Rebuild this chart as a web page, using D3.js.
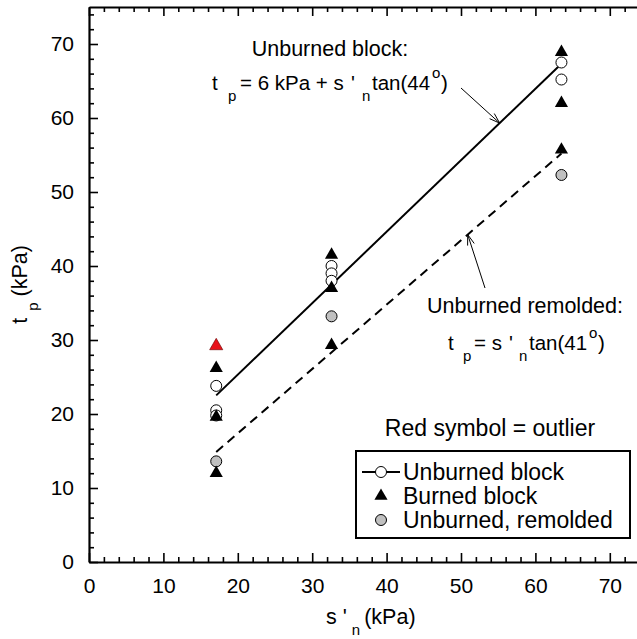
<!DOCTYPE html>
<html>
<head>
<meta charset="utf-8">
<script src="https://cdn.jsdelivr.net/npm/d3@7"></script>
<style>
  html, body { margin: 0; padding: 0; background: #fff; }
  svg { display: block; font-family: Arial, "Liberation Sans", Helvetica, sans-serif; }
</style>
</head>
<body>
<svg id="chart" width="637" height="639"></svg>
<script>
// Peak shear strength vs. effective normal stress
const unburnedS = [17.1, 17.1, 17.1, 32.6, 32.6, 32.6, 63.5, 63.5];
const unburnedT = [23.8, 20.5, 19.8, 40.0, 39.0, 38.0, 67.5, 65.2];

const burnedS = [17.1, 17.1, 17.1, 32.6, 32.6, 32.6, 63.5, 63.5, 63.5];
const burnedT = [26.2, 19.6, 12.0, 41.5, 37.0, 29.3, 68.9, 62.0, 55.7];

const outlierS = [17.1];
const outlierT = [29.2];

const remoldedS = [17.1, 32.6, 63.5];
const remoldedT = [13.6, 33.2, 52.3];

// Mohr-Coulomb fits: t = c + s tan(phi)
const fitBlock = { c: 6, phi: 44, sFrom: 17.1, sTo: 63.5 };
const fitRemolded = { c: 0, phi: 41, sFrom: 17.1, sTo: 63.5 };

const xTicks = [0, 10, 20, 30, 40, 50, 60, 70];
const yTicks = [0, 10, 20, 30, 40, 50, 60, 70];
const legLabels = ["Unburned block", "Burned block", "Unburned, remolded"];

const margin = { left: 89, top: 7 };
const plotW = 558, plotH = 555;

const svg = d3.select("#chart");
const x = d3.scaleLinear().domain([0, 75]).range([margin.left, margin.left + plotW]);
const y = d3.scaleLinear().domain([0, 75]).range([margin.top + plotH, margin.top]);

const FS = 21.5;     // annotation / title size
const EQ = 20.5;     // equation text
const TS = 21;       // tick labels
const LS = 23;       // legend
const SUB = 15;      // sub/superscripts

const minorX = d3.range(0, 76, 2).filter(v => v % 10 !== 0);
const minorY = d3.range(0, 76, 2).filter(v => v % 10 !== 0);

function styleAxis(g) {
  g.select(".domain").attr("stroke", "#000").attr("stroke-width", 2.2);
  g.selectAll(".tick line").attr("stroke", "#000").attr("stroke-width", 1.6);
  g.selectAll(".tick text").attr("fill", "#000").style("font-size", TS + "px")
    .style("font-family", "Arial, 'Liberation Sans', sans-serif");
}
function minor(g) {
  g.select(".domain").remove();
  g.selectAll("line").attr("stroke", "#000").attr("stroke-width", 1.6);
}

// bottom
styleAxis(svg.append("g").attr("transform", `translate(0,${y(0)})`)
  .call(d3.axisBottom(x).tickValues(xTicks).tickSize(-9).tickPadding(16).tickSizeOuter(0)));
svg.append("g").attr("transform", `translate(0,${y(0)})`)
  .call(d3.axisBottom(x).tickValues(minorX).tickSize(-5).tickFormat("").tickSizeOuter(0)).call(minor);

// top
styleAxis(svg.append("g").attr("transform", `translate(0,${y(75)})`)
  .call(d3.axisTop(x).tickValues(xTicks).tickSize(-9).tickFormat("").tickSizeOuter(0)));
svg.append("g").attr("transform", `translate(0,${y(75)})`)
  .call(d3.axisTop(x).tickValues(minorX).tickSize(-5).tickFormat("").tickSizeOuter(0)).call(minor);

// left
styleAxis(svg.append("g").attr("transform", `translate(${x(0)},0)`)
  .call(d3.axisLeft(y).tickValues(yTicks).tickSize(-9).tickPadding(15).tickSizeOuter(0)));
svg.append("g").attr("transform", `translate(${x(0)},0)`)
  .call(d3.axisLeft(y).tickValues(minorY).tickSize(-5).tickFormat("").tickSizeOuter(0)).call(minor);

// axis titles
const xt = svg.append("text").attr("x", 326).attr("y", 624).style("font-size", FS + "px");
xt.append("tspan").text("s '");
xt.append("tspan").attr("dx", 5).attr("dy", 11).style("font-size", SUB + "px").text("n");
xt.append("tspan").attr("dx", 4).attr("dy", -11).text("(kPa)");

const yt = svg.append("text").attr("transform", `translate(27,${y(37.5)}) rotate(-90)`)
  .attr("text-anchor", "middle").style("font-size", FS + "px");
yt.append("tspan").text("t");
yt.append("tspan").attr("dx", 7).attr("dy", 11).style("font-size", SUB + "px").text("p");
yt.append("tspan").attr("dx", 6).attr("dy", -11).text("(kPa)");

// fit lines
function fitPts(f) {
  const t = Math.tan(f.phi * Math.PI / 180);
  return [[f.sFrom, f.c + f.sFrom * t], [f.sTo, f.c + f.sTo * t]];
}
const line = d3.line().x(d => x(d[0])).y(d => y(d[1]));
svg.append("path").attr("d", line(fitPts(fitBlock)))
  .attr("fill", "none").attr("stroke", "#000").attr("stroke-width", 2);
svg.append("path").attr("d", line(fitPts(fitRemolded)))
  .attr("fill", "none").attr("stroke", "#000").attr("stroke-width", 2)
  .attr("stroke-dasharray", "9,6");

// markers
const tri = d3.symbol().type(d3.symbolTriangle).size(75);
const R = 5.5;

svg.append("g").selectAll("circle").data(remoldedS.map((s, i) => [s, remoldedT[i]]))
  .join("circle").attr("cx", d => x(d[0])).attr("cy", d => y(d[1])).attr("r", R)
  .attr("fill", "#c0c0c0").attr("stroke", "#000").attr("stroke-width", 1);

svg.append("g").selectAll("circle").data(unburnedS.map((s, i) => [s, unburnedT[i]]))
  .join("circle").attr("cx", d => x(d[0])).attr("cy", d => y(d[1])).attr("r", R)
  .attr("fill", "#fff").attr("stroke", "#000").attr("stroke-width", 1);

svg.append("g").selectAll("path").data(burnedS.map((s, i) => [s, burnedT[i]]))
  .join("path").attr("d", tri).attr("transform", d => `translate(${x(d[0])},${y(d[1])})`)
  .attr("fill", "#000");

svg.append("g").selectAll("path").data(outlierS.map((s, i) => [s, outlierT[i]]))
  .join("path").attr("d", tri).attr("transform", d => `translate(${x(d[0])},${y(d[1])})`)
  .attr("fill", "#e8121a").attr("stroke", "#600").attr("stroke-width", 0.6);

// annotations
svg.append("text").attr("x", 330).attr("y", 56).attr("text-anchor", "middle")
  .style("font-size", FS + "px").text("Unburned block:");

function equation(parts, baseY) {
  const t = svg.append("text").style("font-size", EQ + "px");
  parts.forEach(p => {
    const s = t.append("tspan").attr("x", p.x).text(p.txt);
    if (p.kind === "sub") s.attr("y", baseY + 11).style("font-size", SUB + "px");
    else if (p.kind === "sup") s.attr("y", baseY - 12).style("font-size", SUB + "px");
    else s.attr("y", baseY);
  });
}
equation([
  { x: 212, txt: "t" },
  { x: 228, txt: "p", kind: "sub" },
  { x: 240, txt: "= 6 kPa + s" },
  { x: 351, txt: "'" },
  { x: 362, txt: "n", kind: "sub" },
  { x: 372, txt: "tan(44" },
  { x: 432, txt: "o", kind: "sup" },
  { x: 441, txt: ")" }
], 90);

svg.append("text").attr("x", 525).attr("y", 313).attr("text-anchor", "middle")
  .style("font-size", FS + "px").text("Unburned remolded:");

equation([
  { x: 448, txt: "t" },
  { x: 463, txt: "p", kind: "sub" },
  { x: 474, txt: "= s" },
  { x: 509, txt: "'" },
  { x: 519, txt: "n", kind: "sub" },
  { x: 529, txt: "tan(41" },
  { x: 589, txt: "o", kind: "sup" },
  { x: 598, txt: ")" }
], 350);

// leader arrows pointing at the fit lines
function arrow(x1, y1, sTip, f) {
  const t = Math.tan(f.phi * Math.PI / 180);
  const x2 = x(sTip), y2 = y(f.c + sTip * t);
  const a = Math.atan2(y2 - y1, x2 - x1), L = 11, w = 0.32;
  svg.append("line").attr("x1", x1).attr("y1", y1).attr("x2", x2).attr("y2", y2)
    .attr("stroke", "#000").attr("stroke-width", 1);
  svg.append("path")
    .attr("d", `M${x2 - L * Math.cos(a - w)},${y2 - L * Math.sin(a - w)}L${x2},${y2}L${x2 - L * Math.cos(a + w)},${y2 - L * Math.sin(a + w)}`)
    .attr("fill", "none").attr("stroke", "#000").attr("stroke-width", 1);
}
arrow(461, 88, 55.2, fitBlock);
arrow(485, 288, 50.9, fitRemolded);

// legend
svg.append("text").attr("x", 490).attr("y", 436).attr("text-anchor", "middle")
  .style("font-size", LS + "px").text("Red symbol = outlier");

svg.append("rect").attr("x", 356).attr("y", 451).attr("width", 274).attr("height", 87)
  .attr("fill", "#fff").attr("stroke", "#000").attr("stroke-width", 2);

const legX = 381, rows = [472, 496, 520];
svg.append("line").attr("x1", 362).attr("x2", 400).attr("y1", rows[0]).attr("y2", rows[0])
  .attr("stroke", "#000").attr("stroke-width", 2);
svg.append("circle").attr("cx", legX).attr("cy", rows[0]).attr("r", R)
  .attr("fill", "#fff").attr("stroke", "#000").attr("stroke-width", 1);
svg.append("path").attr("d", tri).attr("transform", `translate(${legX},${rows[1]})`).attr("fill", "#000");
svg.append("circle").attr("cx", legX).attr("cy", rows[2]).attr("r", R)
  .attr("fill", "#c0c0c0").attr("stroke", "#000").attr("stroke-width", 1);

svg.append("g").selectAll("text").data(legLabels).join("text")
  .attr("x", 403).attr("y", (d, i) => rows[i] + 8).style("font-size", LS + "px").text(d => d);
</script>
</body>
</html>
